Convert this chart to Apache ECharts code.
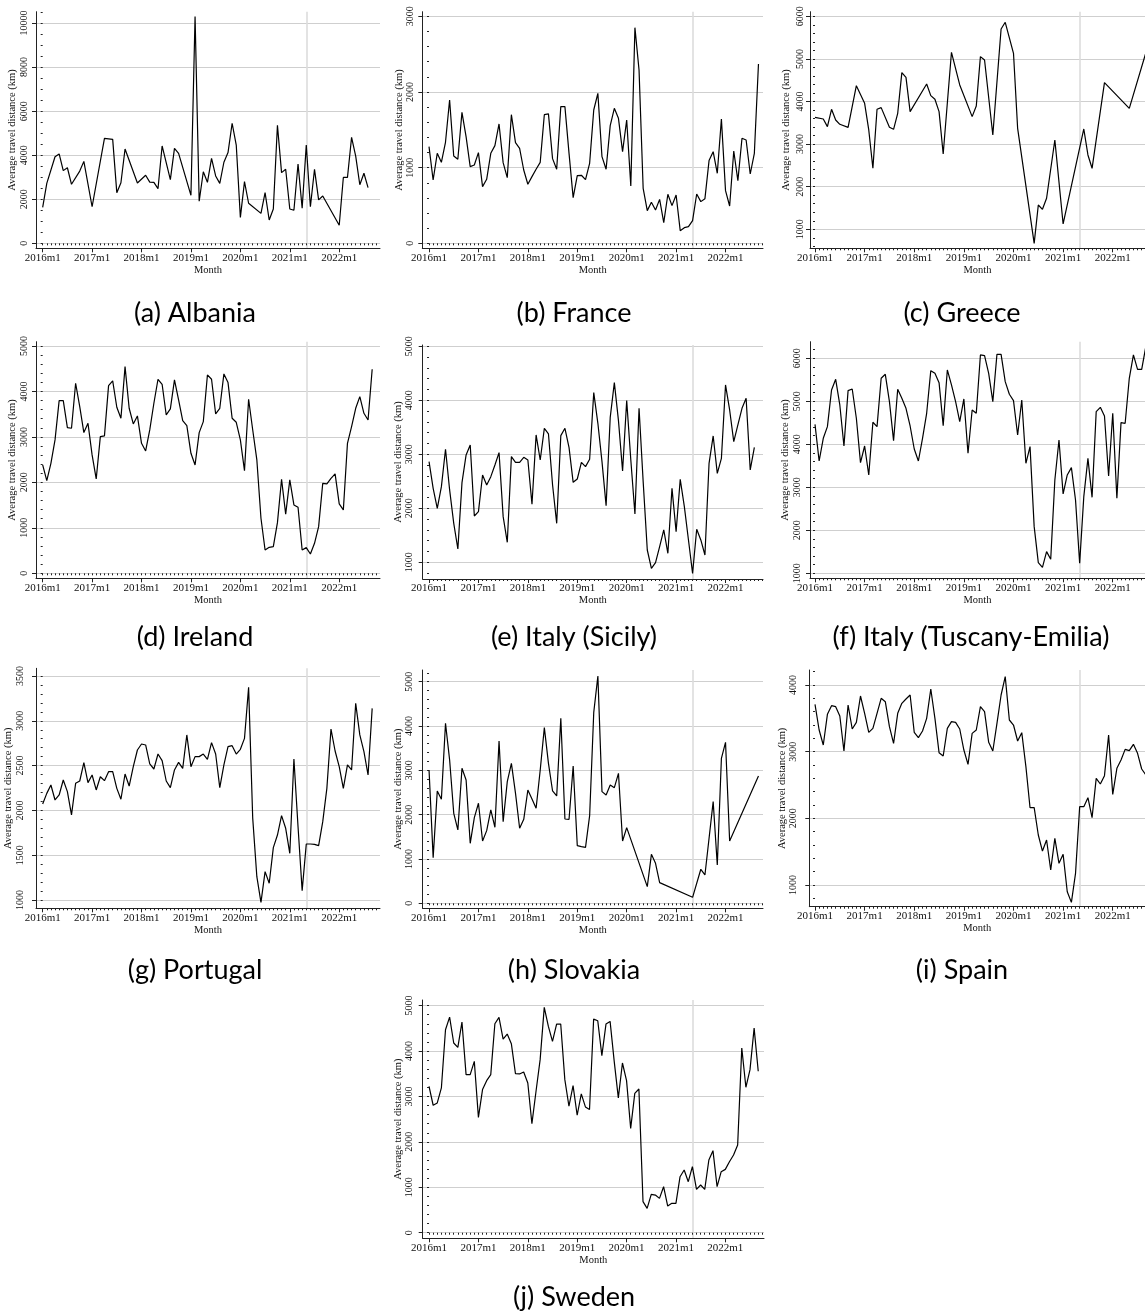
<!DOCTYPE html>
<html><head><meta charset="utf-8">
<script src="https://cdn.jsdelivr.net/npm/echarts@6/dist/echarts.min.js"></script>
<style>html,body{margin:0;padding:0;background:#fff}#c{width:1145px;height:1316px}</style>
</head><body><div id="c"></div>
<script>
// ---- tick labels / texts ----
const monthTicks = [0, 12, 24, 36, 48, 60, 72];
const monthTickLabels = ['2016m1','2017m1','2018m1','2019m1','2020m1','2021m1','2022m1'];
const referenceMonth = 64; // 2021m5
const yAxisTitle = 'Average travel distance (km)';
const xAxisTitle = 'Month';
const captions = ['(a) Albania','(b) France','(c) Greece','(d) Ireland','(e) Italy (Sicily)',
  '(f) Italy (Tuscany-Emilia)','(g) Portugal','(h) Slovakia','(i) Spain','(j) Sweden'];

// ---- data (month index: 0 = 2016m1) ----
const albaniaMonths = [0,1,3,4,5,6,7,9,10,12,15,17,18,19,20,23,25,26,27,28,29,31,32,33,36,37,38,39,40,41,42,43,44,45,46,47,48,49,50,53,54,55,56,57,58,59,60,61,62,63,64,65,66,67,68,72,73,74,75,76,77,78,79];
const albaniaValues = [1630,2720,3930,4060,3300,3430,2680,3280,3720,1660,4760,4720,2300,2750,4280,2740,3090,2780,2770,2480,4420,2890,4310,4080,2180,10300,1910,3250,2770,3860,3060,2720,3680,4120,5450,4460,1180,2800,1820,1360,2300,1060,1560,5360,3210,3360,1560,1500,3600,1600,4460,1660,3360,1970,2150,820,2990,2990,4810,3960,2660,3180,2530];

const franceValues = [1278,837,1189,1070,1335,1894,1154,1110,1731,1410,1013,1035,1198,749,846,1189,1291,1577,1066,868,1700,1330,1256,969,780,881,978,1070,1700,1710,1119,978,1806,1806,1189,604,894,899,841,1057,1762,1982,1145,978,1555,1784,1652,1211,1630,758,2850,2291,727,432,542,441,581,273,648,498,639,167,207,220,300,652,551,590,1093,1211,925,1643,696,493,1220,828,1388,1366,916,1189,2370];

const greeceMonths = [0,2,3,4,5,6,8,10,12,13,14,15,16,18,19,20,21,22,23,27,28,29,30,31,33,35,38,39,40,41,43,45,46,48,49,53,54,55,56,58,60,65,66,67,70,76,80];
const greeceValues = [3629,3590,3410,3817,3566,3465,3394,4372,3958,3332,2432,3817,3856,3394,3347,3723,4678,4568,3762,4412,4138,4052,3762,2768,5155,4388,3645,3895,5053,4975,3214,5703,5859,5131,3371,671,1571,1469,1728,3097,1125,3355,2745,2432,4443,3840,5140];

const irelandValues = [2383,2038,2419,2933,3798,3798,3204,3189,4179,3666,3094,3299,2603,2075,3006,3021,4128,4230,3651,3409,4545,3629,3284,3460,2859,2691,3152,3739,4267,4157,3482,3614,4252,3812,3358,3248,2639,2383,3094,3336,4362,4267,3504,3629,4384,4194,3409,3321,2933,2258,3827,3152,2493,1210,513,572,587,1114,2067,1300,2053,1503,1452,513,565,425,660,1026,1979,1965,2089,2185,1525,1393,2859,3226,3629,3886,3519,3372,4487];

const sicilyValues = [2864,2370,2000,2401,3093,2340,1722,1247,2475,2988,3173,1858,1938,2617,2432,2586,2802,3031,1846,1370,2957,2852,2852,2944,2895,2074,3358,2895,3481,3377,2432,1722,3346,3481,3123,2481,2543,2852,2772,2907,4142,3574,2864,2049,3685,4327,3623,2691,3994,2895,1895,3852,2494,1228,889,994,1290,1599,1167,2370,1568,2537,2031,1414,796,1611,1414,1136,2833,3340,2648,2926,4284,3821,3235,3543,3852,4037,2710,3130];

const tuscanyValues = [4465,3612,4140,4411,5264,5512,4915,3961,5248,5287,4605,3574,3961,3287,4512,4411,5535,5628,4992,4085,5279,5070,4837,4426,3891,3612,4140,4721,5713,5651,5434,4434,5729,5380,4992,4527,5054,3791,4798,4721,6078,6062,5651,4992,6093,6093,5457,5163,5016,4217,5031,3558,3946,2085,1248,1140,1504,1326,3171,4101,2845,3287,3457,2705,1233,2783,3674,2767,4760,4860,4659,3264,4721,2744,4504,4488,5535,6078,5744,5744,6271];

const portugalValues = [2071,2190,2283,2116,2172,2339,2209,1949,2302,2328,2533,2310,2395,2228,2376,2332,2432,2432,2246,2124,2406,2272,2488,2674,2741,2730,2518,2462,2629,2555,2328,2254,2451,2536,2469,2842,2488,2600,2600,2629,2570,2756,2629,2254,2507,2711,2722,2629,2682,2804,3373,1911,1260,974,1316,1186,1584,1725,1941,1800,1521,2574,1818,1104,1625,1625,1621,1606,1874,2246,2908,2663,2488,2246,2507,2451,3195,2842,2655,2395,3139];

const slovakiaMonths = [0,1,2,3,4,5,6,7,8,9,10,11,12,13,14,15,16,17,18,19,20,21,22,23,24,25,26,27,28,29,30,31,32,33,34,35,36,37,38,39,40,41,42,43,44,45,46,47,48,53,54,55,56,64,66,67,69,70,71,72,73,80];
const slovakiaValues = [3008,1030,2534,2346,4060,3233,2030,1654,3045,2782,1353,1932,2256,1406,1639,2105,1714,3662,1842,2744,3158,2481,1692,1895,2556,2353,2143,3008,3962,3158,2534,2421,4173,1902,1895,3098,1301,1278,1263,1977,4308,5128,2519,2444,2669,2609,2932,1406,1707,376,1105,902,466,135,767,639,2293,865,3270,3632,1406,2872];

const spainValues = [3710,3325,3100,3560,3690,3675,3535,3010,3700,3340,3440,3835,3575,3290,3350,3575,3800,3750,3375,3125,3575,3725,3790,3850,3290,3210,3310,3500,3940,3500,2985,2935,3350,3450,3440,3340,3025,2810,3275,3325,3675,3600,3140,3010,3425,3850,4125,3475,3400,3160,3285,2775,2160,2160,1750,1510,1675,1225,1700,1325,1460,900,740,1175,2175,2175,2310,2010,2600,2515,2640,3250,2360,2750,2875,3035,3015,3110,2975,2740,2650];

const swedenValues = [3223,2806,2857,3187,4469,4747,4176,4081,4637,3480,3480,3773,2540,3150,3348,3480,4601,4740,4264,4374,4161,3502,3495,3538,3297,2400,3114,3810,4960,4542,4212,4593,4593,3370,2784,3238,2586,3055,2769,2711,4703,4667,3897,4593,4652,3773,2967,3736,3348,2297,3068,3163,683,536,844,829,756,1013,587,646,646,1233,1380,1123,1453,954,1050,954,1600,1806,1013,1343,1394,1563,1710,1930,4066,3201,3590,4505,3553];

// ---- y tick labels ----
const albaniaYTicks = [0,2000,4000,6000,8000,10000];
const franceYTicks = [0,1000,2000,3000];
const greeceYTicks = [1000,2000,3000,4000,5000,6000];
const irelandYTicks = [0,1000,2000,3000,4000,5000];
const sicilyYTicks = [1000,2000,3000,4000,5000];
const tuscanyYTicks = [1000,2000,3000,4000,5000,6000];
const portugalYTicks = [1000,1500,2000,2500,3000,3500];
const slovakiaYTicks = [0,1000,2000,3000,4000,5000];
const spainYTicks = [1000,2000,3000,4000];
const swedenYTicks = [0,1000,2000,3000,4000,5000];

const seq = vals => vals.map((v, k) => [k, v]);
const pairs = (ms, vals) => ms.map((m, k) => [m, vals[k]]);

const panelData = [
  {pts: pairs(albaniaMonths, albaniaValues), yt: albaniaYTicks},
  {pts: seq(franceValues), yt: franceYTicks},
  {pts: pairs(greeceMonths, greeceValues), yt: greeceYTicks},
  {pts: seq(irelandValues), yt: irelandYTicks},
  {pts: seq(sicilyValues), yt: sicilyYTicks},
  {pts: seq(tuscanyValues), yt: tuscanyYTicks},
  {pts: seq(portugalValues), yt: portugalYTicks},
  {pts: pairs(slovakiaMonths, slovakiaValues), yt: slovakiaYTicks},
  {pts: seq(spainValues), yt: spainYTicks},
  {pts: seq(swedenValues), yt: swedenYTicks}
];

// ---- layout (pixels, axis extents) ----
const layout = [
  {l:36,    t:11.7,  r:380,  b:248.3, x0:-1.62, x1:81.9, y0:-225, y1:10513, mn:500, lg:7,  cx:195, cy:313},
  {l:422.3, t:11.7,  r:763,  b:248.3, x0:-1.63, x1:81.1, y0:-66,  y1:3061,  mn:200, lg:7,  cx:574, cy:313},
  {l:810,   t:11.7,  r:1145, b:248.3, x0:-1.21, x1:79.8, y0:554,  y1:6108,  mn:200, lg:5,  cx:962, cy:313},
  {l:36,    t:341.7, r:380,  b:578.3, x0:-1.62, x1:81.9, y0:-110, y1:5093,  mn:200, lg:7,  cx:195, cy:637},
  {l:422.7, t:345,   r:763,  b:579,   x0:-1.54, x1:81.1, y0:691,  y1:5024,  mn:200, lg:8,  cx:574, cy:637},
  {l:810,   t:341.7, r:1145, b:578.3, x0:-1.21, x1:79.8, y0:884,  y1:6386,  mn:200, lg:8,  cx:971, cy:637},
  {l:36,    t:668.3, r:380,  b:908.3, x0:-1.62, x1:81.9, y0:907,  y1:3586,  mn:100, lg:11, cx:195, cy:970},
  {l:422.7, t:670,   r:763,  b:908.3, x0:-1.54, x1:81.1, y0:-113, y1:5263,  mn:200, lg:8,  cx:574, cy:970},
  {l:809.3, t:670,   r:1145, b:906.7, x0:-1.38, x1:79.8, y0:675,  y1:4225,  mn:200, lg:11, cx:962, cy:970},
  {l:422.7, t:1000,  r:764,  b:1238.3,x0:-1.54, x1:81.4, y0:-123, y1:5123,  mn:200, lg:8,  cx:574, cy:1297}
];

const serif = '"Liberation Serif", "Times New Roman", serif';
const axisCol = '#222';
const gridCol = '#cfcfcf';
const option = {animation: false, backgroundColor: '#fff', grid: [], xAxis: [], yAxis: [], series: [], graphic: []};

panelData.forEach((p, i) => {
  const L = layout[i];
  option.grid.push({left: L.l, top: L.t, width: L.r - L.l, height: L.b - L.t});
  const monthsAll = [];
  for (let m = 0; m <= Math.floor(L.x1); m++) monthsAll.push(m);
  option.xAxis.push({
    gridIndex: i, type: 'value', position: 'bottom', min: L.x0, max: L.x1,
    axisLine: {show: true, onZero: false, lineStyle: {color: axisCol, width: 1}},
    axisTick: {show: true, length: 4, customValues: monthTicks, lineStyle: {color: axisCol, width: 1}},
    axisLabel: {show: true, customValues: monthTicks, margin: 4,
      formatter: v => monthTickLabels[monthTicks.indexOf(Math.round(v))] || '',
      fontFamily: serif, fontSize: 11, color: '#111'},
    splitLine: {show: false},
    name: xAxisTitle, nameLocation: 'middle', nameGap: 16,
    nameTextStyle: {fontFamily: serif, fontSize: 10.5, color: '#111'}
  });
  option.xAxis.push({
    gridIndex: i, type: 'value', position: 'bottom', min: L.x0, max: L.x1,
    axisLine: {show: false}, axisLabel: {show: false}, splitLine: {show: false},
    axisTick: {show: true, length: 2, customValues: monthsAll, lineStyle: {color: axisCol, width: 1}}
  });
  option.xAxis.push({
    gridIndex: i, type: 'value', position: 'bottom', min: L.x0, max: L.x1,
    axisLine: {show: false}, axisLabel: {show: false},
    axisTick: {show: false, customValues: [referenceMonth]},
    splitLine: {show: true, lineStyle: {color: '#dcdcdc', width: 1.6}}
  });
  const minorY = [];
  for (let v = Math.ceil(L.y0 / L.mn) * L.mn; v <= L.y1; v += L.mn) minorY.push(v);
  option.yAxis.push({
    gridIndex: i, type: 'value', position: 'left', min: L.y0, max: L.y1,
    axisLine: {show: true, onZero: false, lineStyle: {color: axisCol, width: 1}},
    axisTick: {show: true, length: 4, customValues: p.yt, lineStyle: {color: axisCol, width: 1}},
    axisLabel: {show: true, customValues: p.yt, rotate: 90, margin: L.lg,
      formatter: v => String(Math.round(v)),
      fontFamily: serif, fontSize: 10, color: '#111'},
    splitLine: {show: true, lineStyle: {color: gridCol, width: 1}},
    name: yAxisTitle, nameLocation: 'middle', nameGap: 18, nameRotate: 90,
    nameTextStyle: {fontFamily: serif, fontSize: 10.5, color: '#111'}
  });
  option.yAxis.push({
    gridIndex: i, type: 'value', position: 'left', min: L.y0, max: L.y1,
    axisLine: {show: false}, axisLabel: {show: false}, splitLine: {show: false},
    axisTick: {show: true, length: 2, customValues: minorY, lineStyle: {color: axisCol, width: 1}}
  });
  option.series.push({
    type: 'line', xAxisIndex: 3 * i, yAxisIndex: 2 * i, data: p.pts,
    symbol: 'none', showSymbol: false, clip: true, z: 5,
    lineStyle: {color: '#000', width: 1.2}, itemStyle: {color: '#000'}
  });
  option.graphic.push({
    type: 'text', x: L.cx, y: L.cy, z: 10,
    style: {text: captions[i], fontFamily: 'Lato, "Noto Sans", sans-serif', fontSize: 27,
      fill: '#000', align: 'center', verticalAlign: 'middle'}
  });
});

const chart = echarts.init(document.getElementById('c'), null, {renderer: 'canvas'});
chart.setOption(option);
</script>
</body></html>
